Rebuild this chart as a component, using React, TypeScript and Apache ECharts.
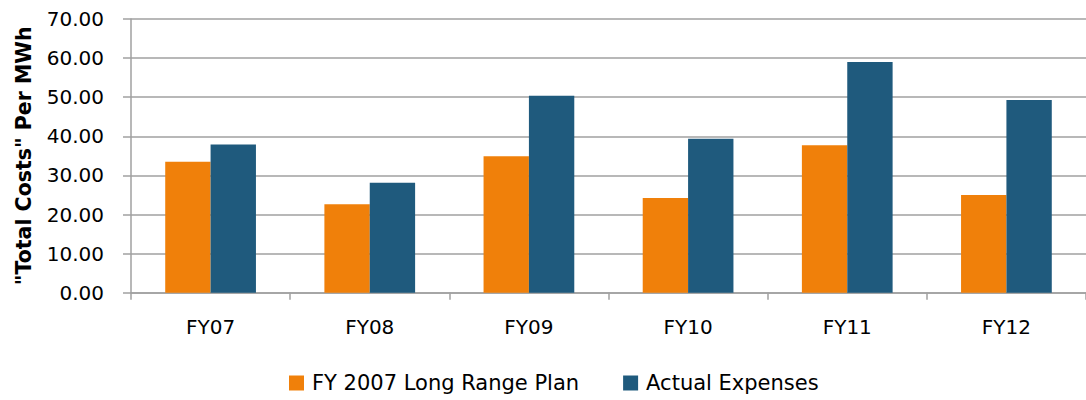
import React, { useEffect, useRef } from "react";
import * as echarts from "echarts";

const categories = ["FY07", "FY08", "FY09", "FY10", "FY11", "FY12"];
const planValues = [33.5, 22.6, 34.9, 24.2, 37.7, 25.0];
const actualValues = [37.9, 28.1, 50.4, 39.4, 59.0, 49.3];
const seriesNames = ["FY 2007 Long Range Plan", "Actual Expenses"];
const yAxisTitle = '"Total Costs" Per MWh';

const FONT = "'DejaVu Sans', sans-serif";

export default function App() {
  const ref = useRef<HTMLDivElement>(null);
  useEffect(() => {
    document.body.style.margin = "0";
    const chart = echarts.init(ref.current!, null, { renderer: "svg" });
    chart.setOption({
      animation: false,
      textStyle: { fontFamily: FONT },
      grid: { left: 131, top: 19, bottom: 107.3, right: -9, containLabel: false },
      legend: {
        left: 289,
        top: 372.5,
        padding: 0,
        itemWidth: 15,
        itemHeight: 15,
        itemGap: 44,
        icon: "rect",
        textStyle: {
          fontFamily: FONT,
          fontSize: 21,
          lineHeight: 21,
          color: "#000",
          padding: [0, 0, 0, 3],
        },
        data: seriesNames,
      },
      xAxis: {
        type: "category",
        data: categories,
        axisLine: { lineStyle: { color: "#A0A0A0", width: 1.5 } },
        axisTick: { show: true, length: 7, lineStyle: { color: "#A0A0A0", width: 1.5 } },
        axisLabel: { fontFamily: FONT, fontSize: 20, color: "#000", margin: 24 },
      },
      yAxis: {
        type: "value",
        min: 0,
        max: 70,
        interval: 10,
        name: yAxisTitle,
        nameLocation: "middle",
        nameGap: 97,
        nameRotate: 90,
        nameTextStyle: { fontFamily: FONT, fontSize: 20.5, fontWeight: "bold", color: "#000" },
        axisLine: { show: true, lineStyle: { color: "#A0A0A0", width: 1.5 } },
        axisTick: { show: true, length: 8, lineStyle: { color: "#A0A0A0", width: 1.5 } },
        axisLabel: {
          fontFamily: FONT,
          fontSize: 20,
          color: "#000",
          margin: 27,
          formatter: (v: number) => v.toFixed(2),
        },
        splitLine: { lineStyle: { color: "#A0A0A0", width: 1.5 } },
      },
      series: [
        {
          name: seriesNames[0],
          type: "bar",
          data: planValues,
          barWidth: "28.5%",
          barGap: "0%",
          itemStyle: { color: "#F0800A" },
        },
        {
          name: seriesNames[1],
          type: "bar",
          data: actualValues,
          barWidth: "28.5%",
          barGap: "0%",
          itemStyle: { color: "#1F5A7D" },
        },
      ],
    });
    return () => chart.dispose();
  }, []);
  return <div ref={ref} style={{ width: 1086, height: 400 }} />;
}
